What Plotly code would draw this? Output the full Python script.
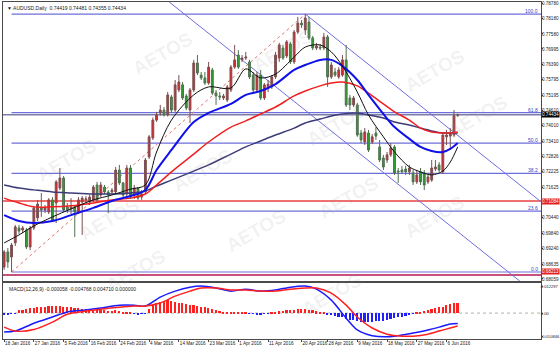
import plotly.graph_objects as go

# ---------------- data ----------------
bars = list(range(123))
opens = [0.6852,0.6911,0.6891,0.6946,0.7004,0.6996,0.6996,0.6930,0.7004,0.7043,
         0.7082,0.7074,0.7066,0.7113,0.7101,0.7159,0.7198,0.7086,0.7078,0.7086,
         0.7066,0.7105,0.7113,0.7105,0.7113,0.7171,0.7132,0.7163,0.7144,0.7144,
         0.7144,0.7229,0.7179,0.7136,0.7237,0.7132,0.7159,0.7124,0.7144,0.7280,
         0.7354,0.7423,0.7451,0.7462,0.7443,0.7513,0.7462,0.7540,0.7560,0.7517,
         0.7462,0.7540,0.7645,0.7598,0.7587,0.7567,0.7618,0.7528,0.7517,0.7509,
         0.7501,0.7540,0.7629,0.7676,0.7657,0.7664,0.7649,0.7598,0.7540,0.7598,
         0.7509,0.7548,0.7552,0.7591,0.7664,0.7703,0.7672,0.7719,0.7649,0.7765,
         0.7800,0.7773,0.7804,0.7742,0.7703,0.7707,0.7703,0.7746,0.7591,0.7610,
         0.7591,0.7598,0.7657,0.7509,0.7482,0.7482,0.7373,0.7338,0.7373,0.7338,
         0.7373,0.7319,0.7276,0.7268,0.7288,0.7319,0.7225,0.7229,0.7233,0.7222,
         0.7218,0.7183,0.7222,0.7218,0.7183,0.7190,0.7233,0.7249,0.7222,0.7358,
         0.7361,0.7365,0.74419]
highs = [0.6918,0.6926,0.6946,0.7016,0.7016,0.7012,0.7004,0.7012,0.7090,0.7113,
         0.7140,0.7093,0.7120,0.7124,0.7190,0.7237,0.7206,0.7101,0.7120,0.7093,
         0.7124,0.7128,0.7128,0.7132,0.7171,0.7183,0.7183,0.7171,0.7151,0.7159,
         0.7241,0.7249,0.7183,0.7249,0.7249,0.7171,0.7163,0.7151,0.7276,0.7365,
         0.7433,0.7455,0.7482,0.7474,0.7532,0.7521,0.7579,0.7598,0.7571,0.7525,
         0.7548,0.7657,0.7676,0.7610,0.7610,0.7649,0.7626,0.7540,0.7532,0.7525,
         0.7560,0.7637,0.7715,0.7695,0.7676,0.7688,0.7657,0.7610,0.7610,0.7618,
         0.7567,0.7579,0.7598,0.7688,0.7723,0.7715,0.7734,0.7727,0.7773,0.7824,
         0.7812,0.7835,0.7824,0.7750,0.7723,0.7719,0.7762,0.7754,0.7649,0.7626,
         0.7629,0.7676,0.7715,0.7521,0.7517,0.7490,0.7385,0.7392,0.7385,0.7369,
         0.7396,0.7346,0.7288,0.7299,0.7334,0.7326,0.7237,0.7245,0.7245,0.7249,
         0.7229,0.7229,0.7237,0.7229,0.7210,0.7268,0.7268,0.7260,0.7377,0.7385,
         0.7392,0.7462,0.74481]
lows = [0.6841,0.6849,0.6833,0.6934,0.6981,0.6984,0.6922,0.6918,0.6996,0.7031,
        0.7047,0.7062,0.7058,0.7027,0.7023,0.7151,0.7066,0.7062,0.7058,0.6969,
        0.7058,0.6977,0.7101,0.7093,0.7105,0.7105,0.7124,0.7136,0.7062,0.7136,
        0.7136,0.7171,0.7120,0.7128,0.7117,0.7117,0.7113,0.7113,0.7136,0.7272,
        0.7346,0.7416,0.7440,0.7437,0.7437,0.7451,0.7455,0.7532,0.7501,0.7462,
        0.7412,0.7532,0.7598,0.7579,0.7560,0.7560,0.7521,0.7482,0.7501,0.7501,
        0.7493,0.7532,0.7622,0.7622,0.7649,0.7657,0.7583,0.7532,0.7532,0.7501,
        0.7501,0.7532,0.7544,0.7583,0.7649,0.7657,0.7664,0.7641,0.7641,0.7758,
        0.7781,0.7754,0.7734,0.7695,0.7695,0.7695,0.7695,0.7552,0.7583,0.7591,
        0.7583,0.7591,0.7474,0.7462,0.7474,0.7358,0.7334,0.7326,0.7299,0.7330,
        0.7346,0.7260,0.7229,0.7257,0.7280,0.7210,0.7179,0.7214,0.7210,0.7210,
        0.7171,0.7175,0.7171,0.7151,0.7175,0.7183,0.7225,0.7222,0.7214,0.7326,
        0.7307,0.7358,0.74355]
closes = [0.6911,0.6872,0.6938,0.7008,0.6992,0.7004,0.6930,0.7004,0.7082,0.7097,
          0.7074,0.7082,0.7113,0.7035,0.7183,0.7198,0.7074,0.7074,0.7086,0.7066,
          0.7113,0.7120,0.7117,0.7124,0.7163,0.7113,0.7171,0.7144,0.7132,0.7151,
          0.7229,0.7179,0.7132,0.7237,0.7124,0.7159,0.7120,0.7136,0.7268,0.7358,
          0.7423,0.7443,0.7462,0.7443,0.7521,0.7462,0.7560,0.7571,0.7509,0.7470,
          0.7540,0.7645,0.7606,0.7587,0.7567,0.7629,0.7528,0.7517,0.7513,0.7517,
          0.7552,0.7629,0.7657,0.7629,0.7664,0.7668,0.7591,0.7540,0.7598,0.7509,
          0.7560,0.7563,0.7591,0.7676,0.7715,0.7664,0.7727,0.7649,0.7765,0.7800,
          0.7793,0.7820,0.7742,0.7703,0.7711,0.7703,0.7746,0.7591,0.7637,0.7598,
          0.7618,0.7657,0.7482,0.7482,0.7509,0.7365,0.7346,0.7377,0.7307,0.7358,
          0.7361,0.7268,0.7241,0.7288,0.7315,0.7218,0.7222,0.7222,0.7222,0.7237,
          0.7183,0.7210,0.7183,0.7171,0.7202,0.7237,0.7241,0.7229,0.7365,0.7365,
          0.7369,0.7440,0.74434]

# moving averages, sampled at bar indices
ma_idx = [0,4,8,13,18,24,29,34,38,41,45,51,55,61,65,69,73,78,81,85,88,91,95,98,102,105,109,112,115,118,120,122]
ma_fast = [0.6946,0.6977,0.7012,0.7047,0.7078,0.7113,0.7132,0.7155,0.7171,0.7299,0.7423,0.7521,0.7552,0.7548,0.7622,0.7587,
           0.7602,0.7668,0.7707,0.7715,0.7688,0.7633,0.7532,0.7443,0.7358,0.7299,0.7241,0.7222,0.7210,0.7225,0.7260,0.7319]
ma_mid = [0.7054,0.7031,0.7023,0.7031,0.7054,0.7082,0.7109,0.7128,0.7152,0.7229,0.7307,0.7416,0.7451,0.7486,0.7521,0.7536,
          0.7563,0.7618,0.7637,0.7657,0.7657,0.7633,0.7579,0.7521,0.7447,0.7396,0.7350,0.7319,0.7303,0.7299,0.7311,0.7334]
ma_slow = [0.7120,0.7101,0.7086,0.7086,0.7090,0.7101,0.7113,0.7120,0.7136,0.7171,0.7222,0.7291,0.7338,0.7396,0.7420,0.7447,
           0.7474,0.7517,0.7536,0.7556,0.7567,0.7571,0.7556,0.7528,0.7486,0.7455,0.7423,0.7392,0.7377,0.7373,0.7373,0.7377]
ma_long = [0.7171,0.7159,0.7152,0.7144,0.7140,0.7136,0.7136,0.7140,0.7148,0.7167,0.7190,0.7225,0.7249,0.7291,0.7319,0.7342,
           0.7365,0.7392,0.7412,0.7427,0.7439,0.7447,0.7451,0.7443,0.7431,0.7416,0.7404,0.7392,0.7381,0.7373,0.7373,0.7373]

# MACD
macd_idx = [0,3,8,13,17,22,26,31,35,38,42,46,50,53,57,61,65,69,73,77,81,84,88,92,95,99,103,107,110,114,117,120,122]
macd_main = [-0.0086,-0.0082,-0.0046,-0.0018,0.0005,0.0014,0.0023,0.0036,0.0036,0.0032,0.0073,0.0100,0.0118,0.0123,0.0114,
             0.0100,0.0109,0.0100,0.0105,0.0118,0.0123,0.0109,0.0059,-0.0023,-0.0077,-0.0103,-0.0108,-0.0100,-0.0091,-0.0077,
             -0.0064,-0.0050,-0.0048]
macd_signal = [-0.0064,-0.0082,-0.0075,-0.0041,-0.0005,0.0009,0.0018,0.0027,0.0032,0.0032,0.0046,0.0077,0.0100,0.0114,0.0114,
               0.0105,0.0105,0.0100,0.0100,0.0109,0.0114,0.0114,0.0091,0.0036,-0.0018,-0.0068,-0.0096,-0.0105,-0.0105,-0.0096,
               -0.0082,-0.0068,-0.0059]
macd_hist = [-0.0006,-0.0005,-0.0004,-0.0002,
             0.0012,0.0014,0.0018,0.0022,0.0025,0.0027,0.0028,
             0.0030,0.0032,0.0031,0.0033,0.0034,0.0030,0.0028,0.0026,0.0024,0.0022,
             0.0020,0.0018,0.0016,0.0016,0.0014,0.0014,0.0012,0.0010,0.0010,0.0012,
             0.0010,0.0006,0.0004,0.0002,
             -0.0003,-0.0005,-0.0004,-0.0002,
             0.0020,0.0035,0.0045,0.0052,0.0056,0.0058,0.0055,0.0052,0.0048,0.0045,0.0040,0.0038,
             0.0036,0.0033,0.0030,0.0026,0.0022,0.0018,0.0014,0.0010,0.0006,0.0004,
             0.0004,0.0006,0.0006,0.0004,0.0002,-0.0002,-0.0004,-0.0006,-0.0006,-0.0004,
             -0.0002,0.0002,0.0005,0.0008,0.0010,0.0012,0.0012,0.0015,0.0018,0.0020,
             0.0020,0.0016,0.0012,0.0008,0.0005,0.0002,-0.0006,-0.0010,
             -0.0014,-0.0017,-0.0020,-0.0025,-0.0030,-0.0033,-0.0037,-0.0040,-0.0042,-0.0042,-0.0040,-0.0038,
             -0.0036,-0.0034,-0.0030,-0.0026,-0.0024,-0.0020,-0.0016,-0.0012,-0.0008,-0.0004,
             0.0002,0.0006,0.0010,0.0014,0.0018,0.0022,0.0026,0.0030,0.0036,0.0040,0.0044,0.0047]

# Fibonacci / objects
fib_low, fib_high = 0.6833, 0.7835
fib_low_bar, fib_high_bar = 2, 81
fib_levels = [0.0, 23.6, 38.2, 50.0, 61.8, 100.0]
red_levels = [0.71084, 0.68213]
bid_price = 0.74434
channel_slope = -0.00115          # price per bar
channel_lower_anchor = (44.4, 0.7882)
channel_upper_anchor = (81, 0.7835)

date_ticks = [0, 8, 16, 23, 31, 39, 47, 55, 63, 71, 80, 87, 95, 103, 111, 119]
date_labels = ['18 Jan 2016','27 Jan 2016','5 Feb 2016','16 Feb 2016','24 Feb 2016','4 Mar 2016',
               '14 Mar 2016','23 Mar 2016','1 Apr 2016','11 Apr 2016','20 Apr 2016','28 Apr 2016',
               '9 May 2016','18 May 2016','27 May 2016','6 Jun 2016']
price_ticks = [0.78780,0.78180,0.77580,0.76995,0.76390,0.75795,0.75195,0.74610,0.74010,0.73410,
               0.72826,0.72225,0.71625,0.70440,0.69840,0.69240,0.68635,0.68059]
macd_ticks = [0.012297, 0.0, -0.010846]
macd_ticktext = ['0.012297', '0.00', '-0.010846']

# ---------------- figure ----------------
FONT = 'Liberation Sans, Arial, sans-serif'
XR = [-0.3, 144.4]
YR = [0.67980, 0.78819]
Y2R = [-0.0118, 0.0137]
TF = dict(size=4.6, family=FONT, color='#202020')

fig = go.Figure()

fig.add_trace(go.Candlestick(
    x=bars, open=opens, high=highs, low=lows, close=closes,
    increasing=dict(fillcolor='#e8202a', line=dict(color='#7a5050', width=1)),
    decreasing=dict(fillcolor='#2aa52a', line=dict(color='#4f6f4f', width=1)),
    whiskerwidth=0, hoverinfo='skip', xaxis='x', yaxis='y'))

for vals, col, w in [(ma_long, '#3c3c78', 1.5), (ma_slow, '#f02020', 1.5),
                     (ma_mid, '#1010e8', 2), (ma_fast, '#111111', 1)]:
    fig.add_trace(go.Scatter(x=ma_idx, y=vals, mode='lines', hoverinfo='skip',
                             line=dict(color=col, width=w, shape='spline', smoothing=0.9),
                             xaxis='x', yaxis='y'))

fig.add_trace(go.Bar(x=bars, y=macd_hist, width=0.45,
                     marker=dict(color=['#ff2020' if v > 0 else '#2020ff' for v in macd_hist], line=dict(width=0)),
                     hoverinfo='skip', xaxis='x2', yaxis='y2'))
fig.add_trace(go.Scatter(x=macd_idx, y=macd_main, mode='lines', hoverinfo='skip',
                         line=dict(color='#1a1aff', width=1.5, shape='spline', smoothing=0.8),
                         xaxis='x2', yaxis='y2'))
fig.add_trace(go.Scatter(x=macd_idx, y=macd_signal, mode='lines', hoverinfo='skip',
                         line=dict(color='#ff2020', width=1.5, shape='spline', smoothing=0.8),
                         xaxis='x2', yaxis='y2'))

shapes = []
annotations = []
FIBC = '#6f6fdc'
rng = fib_high - fib_low
for lv in fib_levels:
    price = fib_low + rng * lv / 100.0
    shapes.append(dict(type='line', xref='x', yref='y', x0=fib_low_bar, x1=XR[1], y0=price, y1=price,
                       line=dict(color=FIBC, width=1.2), layer='below'))
    annotations.append(dict(xref='paper', x=0.997, xanchor='right', yref='y', y=price, yanchor='bottom',
                            text=f'{lv:.1f}', showarrow=False, font=dict(size=5, color='#4040c0', family=FONT),
                            borderpad=0, yshift=-1))
# bid line
shapes.append(dict(type='line', xref='x', yref='y', x0=XR[0], x1=XR[1], y0=bid_price, y1=bid_price,
                   line=dict(color='#7d7da8', width=1.5), layer='below'))
# red horizontal levels
for lv, col in zip(red_levels, ['#ee7070', '#c8507a']):
    shapes.append(dict(type='line', xref='x', yref='y', x0=XR[0], x1=XR[1], y0=lv, y1=lv,
                       line=dict(color=col, width=2), layer='below'))
# fib trend (dotted)
shapes.append(dict(type='line', xref='x', yref='y', x0=fib_low_bar, y0=fib_low, x1=fib_high_bar, y1=fib_high,
                   line=dict(color='#e07070', width=1, dash='dot'), layer='below'))
# channel lines
bx, by = channel_lower_anchor
end_lower = bx + (YR[0] - by) / channel_slope
shapes.append(dict(type='line', xref='x', yref='y', x0=bx, y0=by, x1=end_lower, y1=YR[0],
                   line=dict(color=FIBC, width=1), layer='below'))
ux, uy = channel_upper_anchor
shapes.append(dict(type='line', xref='x', yref='y', x0=ux, y0=uy, x1=XR[1], y1=uy + channel_slope * (XR[1] - ux),
                   line=dict(color=FIBC, width=1), layer='below'))
# MACD zero line
shapes.append(dict(type='line', xref='x2', yref='y2', x0=XR[0], x1=XR[1], y0=0, y1=0,
                   line=dict(color='#b0b0b0', width=1, dash='dot'), layer='below'))

# price boxes on the right axis
for price, bg, anchor in [(bid_price, '#000000', 'middle'), (red_levels[0], '#e02020', 'middle'),
                          (red_levels[1], '#e02020', 'bottom')]:
    annotations.append(dict(xref='paper', x=1, xanchor='left', xshift=0, yref='y', y=price, yanchor=anchor,
                            text=f'{price:.5f}', showarrow=False, bgcolor=bg, borderpad=0,
                            font=dict(size=4.6, color='white', family=FONT)))

# headers
annotations.append(dict(xref='paper', yref='paper', x=0.003, y=1, xanchor='left', yanchor='top', yshift=-1,
                        text='▼ AUDUSD,Daily  0.74419 0.74481 0.74355 0.74434', showarrow=False,
                        font=dict(size=5, color='#202020', family=FONT)))
annotations.append(dict(xref='paper', yref='paper', x=0.008, y=0.166, xanchor='left', yanchor='top', yshift=-1,
                        text='MACD(12,26,9) -0.000058 -0.004768 0.004710 0.000000', showarrow=False,
                        font=dict(size=5, color='#202020', family=FONT)))

# watermark
wm_pos = [(0.23, 0.93), (0.52, 0.94), (0.87, 0.88), (0.05, 0.53), (0.37, 0.50), (0.62, 0.72),
          (0.95, 0.66), (0.71, 0.42), (0.13, 0.27), (0.47, 0.24), (0.87, 0.28), (0.18, 0.12), (0.61, 0.05)]
for px, py in wm_pos:
    annotations.append(dict(xref='paper', yref='paper', x=px, y=py, text='<b>AETOS</b>', showarrow=False,
                            textangle=-30, font=dict(size=19, color='rgba(150,150,150,0.12)', family=FONT)))

axis_common = dict(showgrid=False, zeroline=False, showline=True, mirror=True, linecolor='#4a4a4a',
                   linewidth=1, automargin=False)

fig.update_layout(
    template='none',
    width=560, height=351, margin=dict(l=3, r=19, t=2, b=12, autoexpand=False),
    paper_bgcolor='white', plot_bgcolor='white', showlegend=False, bargap=0,
    font=dict(family=FONT, size=5, color='#202020'),
    xaxis=dict(domain=[0, 1], range=XR, anchor='y', showticklabels=False, ticks='',
               rangeslider=dict(visible=False), **axis_common),
    xaxis2=dict(domain=[0, 1], range=XR, anchor='y2', matches='x', tickmode='array',
                tickvals=date_ticks, ticktext=date_labels, ticks='outside', ticklen=2, tickcolor='#4a4a4a',
                tickangle=0, ticklabelposition='outside right', ticklabelstandoff=-1, tickfont=TF,
                **axis_common),
    yaxis=dict(domain=[0.1721, 1], range=YR, anchor='x', side='right', tickmode='array',
               tickvals=price_ticks, ticktext=[f'{v:.5f}' for v in price_ticks], ticks='outside', ticklen=1,
               ticklabelstandoff=-2, tickcolor='#4a4a4a', tickfont=TF, **axis_common),
    yaxis2=dict(domain=[0, 0.1662], range=Y2R, anchor='x2', side='right', tickmode='array',
                tickvals=macd_ticks, ticktext=macd_ticktext, ticks='outside', ticklen=1,
                ticklabelstandoff=-3, tickcolor='#4a4a4a', tickfont=dict(size=4.1, family=FONT, color='#202020'),
                **axis_common),
    shapes=shapes, annotations=annotations,
)

fig.write_html('out.html')
